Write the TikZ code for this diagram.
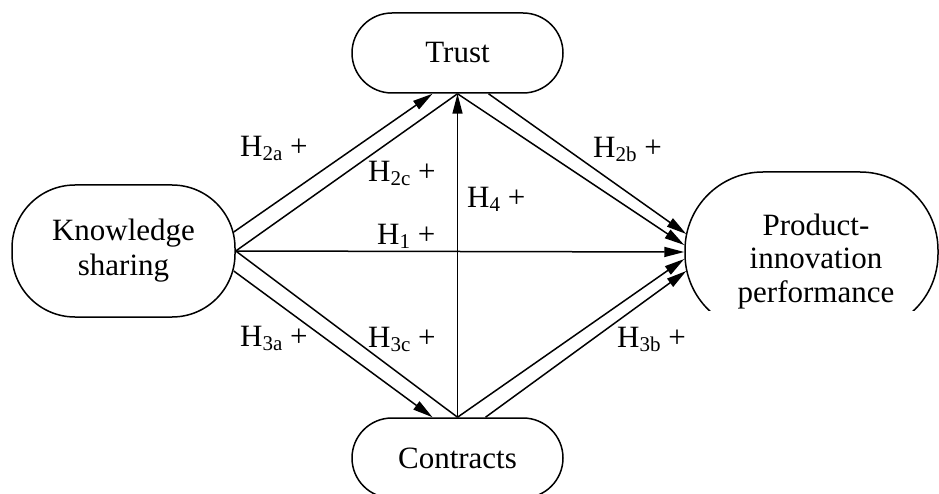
\documentclass[tikz,border=0pt]{standalone}
\usepackage{fontspec}
\setmainfont{Liberation Serif}
\usetikzlibrary{arrows.meta,calc}
\newcommand\hsub[1]{\raisebox{-4pt}{\fontsize{21}{21}\selectfont #1}}
\begin{document}
\begin{tikzpicture}[x=1pt,y=-1pt,
  box/.style={draw, line width=1.5pt, fill=white, align=center, inner sep=0pt,
    font=\fontsize{31}{35}\selectfont},
  txt/.style={align=center, inner sep=0pt, font=\fontsize{31}{33.5}\selectfont},
  link/.style={line width=1.5pt},
  arr/.style={line width=1.5pt, -{Triangle[length=20pt,width=10pt]}},
  hlab/.style={anchor=base west, inner sep=0pt, font=\fontsize{31}{35}\selectfont}]
\clip (0,0) rectangle (939,494);
% nodes
\node[box, minimum width=223pt, minimum height=132pt, rounded corners=63pt] (ks) at (123.5,251) {Knowledge\\sharing};
\node[box, minimum width=211pt, minimum height=80pt, rounded corners=40pt] (trust) at (457.5,53) {Trust};
\node[box, minimum width=211pt, minimum height=80pt, rounded corners=40pt] (con) at (457.5,458) {Contracts};
\begin{scope}
  \clip (0,0) rectangle (939,310);
  \node[box, minimum width=253pt, minimum height=160pt, rounded corners=78pt] (pip) at (811.5,252) {};
  \node[txt] (piptext) at (816,261.3) {Product-\\innovation\\performance};
\end{scope}
% connection points
\coordinate (ksA) at ($(ks.east)+(-2,-19)$);
\coordinate (ksB) at ($(ks.east)+(-2,20)$);
\coordinate (trA) at ($(trust.south)+(-25,0)$);
\coordinate (trB) at ($(trust.south)+(31,0)$);
\coordinate (coA) at ($(con.north)+(-25,0)$);
\coordinate (coB) at ($(con.north)+(28,0)$);
\coordinate (pA) at ($(pip.west)+(2,-18)$);
\coordinate (pB) at ($(pip.west)+(0,-7)$);
\coordinate (pC) at ($(pip.west)+(0,7)$);
\coordinate (pD) at ($(pip.west)+(2,19)$);
% connectors
\draw[link] (ks.east) -- (trust.south);
\draw[arr] (trust.south) -- (pB);
\draw[link] (ks.east) -- (con.north);
\draw[arr] (con.north) -- (pC);
\draw[arr] (ks.east) -- (pip.west);
\draw[arr] (con.north) -- (trust.south);
\draw[arr] (ksA) -- (trA);
\draw[arr] (trB) -- (pA);
\draw[arr] (ksB) -- (coA);
\draw[arr] (coB) -- (pD);
% labels
\node[hlab] (l2a) at (240,157) {H\hsub{2a} +};
\node[hlab] (l2c) at (368,182) {H\hsub{2c} +};
\node[hlab] (l1) at (377,245) {H\hsub{1} +};
\node[hlab] (l4) at (467,208) {H\hsub{4} +};
\node[hlab] (l2b) at (593,158) {H\hsub{2b} +};
\node[hlab] (l3a) at (240,346) {H\hsub{3a} +};
\node[hlab] (l3c) at (368,347) {H\hsub{3c} +};
\node[hlab] (l3b) at (617,347) {H\hsub{3b} +};
\end{tikzpicture}
\end{document}
